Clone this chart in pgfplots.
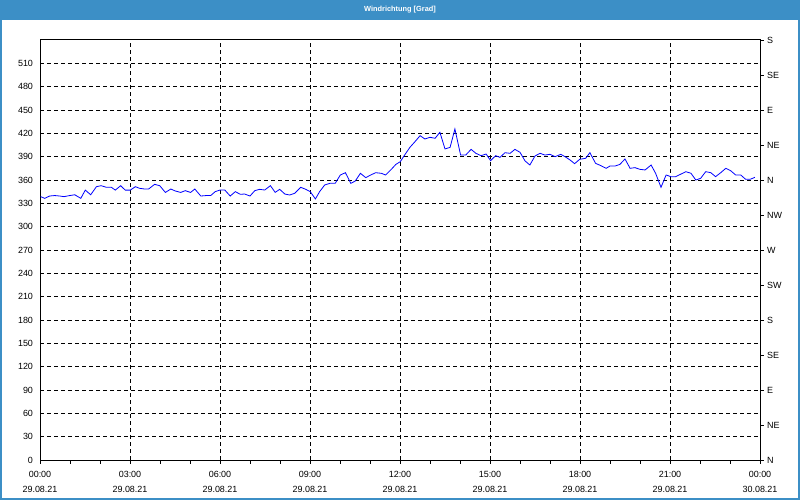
\documentclass[border=0pt]{standalone}
\usepackage{pgfplots}
\pgfplotsset{compat=1.18}
\usepackage{fontspec}
\setmainfont{Liberation Sans}
\definecolor{titlebar}{RGB}{60,143,198}
\begin{document}
\begin{tikzpicture}
\fill[titlebar] (0,0) rectangle (800bp,500bp);
\fill[white] (2bp,2bp) rectangle (798bp,480bp);
\node[text=white, font=\fontsize{7.4}{10}\selectfont] at (400bp,490bp) {\textbf{Windrichtung [Grad]}};
\begin{axis}[at={(40bp,40bp)}, anchor=south west, scale only axis,
  width=720bp, height=420bp,
  xmin=0, xmax=24, ymin=0, ymax=540,
  xtick={0,3,...,24}, minor xtick={0,1,...,24},
  xticklabels={{00:00\\29.08.21},{03:00\\29.08.21},{06:00\\29.08.21},{09:00\\29.08.21},{12:00\\29.08.21},{15:00\\29.08.21},{18:00\\29.08.21},{21:00\\29.08.21},{00:00\\30.08.21}},
  ytick={0,30,...,510},
  /pgf/number format/assume math mode=true,
  grid=major,
  major grid style={black, dash pattern=on 4bp off 3bp, line width=0.8bp},
  axis line style={black, line width=1bp},
  xtick pos=bottom, ytick pos=left,
  tick align=outside,
  major tick length=3.5bp, minor tick length=3.5bp,
  tick style={black, line width=0.8bp},
  ytick style={draw=none},
  xticklabel style={align=center, font=\fontsize{9}{15}\selectfont, text=black, yshift=-4.5bp},
  yticklabel style={font=\fontsize{9}{11}\selectfont, text=black},
  clip=true,
]
\addplot[blue, line width=0.8bp] coordinates {
(0.02,338.6)(0.16,336.4)(0.32,339.4)(0.49,340)(0.66,339.4)(0.80,338.6)(0.99,340)(1.16,341)(1.36,336.4)(1.51,347)(1.69,341)(1.88,351.4)(2.04,352.7)(2.21,350.6)(2.38,350.6)(2.51,347)(2.69,352.7)(2.84,347)(3.01,347)(3.18,351.4)(3.32,349.3)(3.49,348.4)(3.62,348.4)(3.82,354.4)(3.99,352.7)(4.18,344)(4.36,348.4)(4.51,345.9)(4.69,344)(4.84,346.3)(5.02,344)(5.16,348.4)(5.36,339.4)(5.54,340)(5.69,340)(5.84,345)(5.99,347)
(6.16,347.1)(6.34,339.4)(6.51,345)(6.68,341.6)(6.82,342)(7.00,339.4)(7.16,346.3)(7.32,348)(7.49,347.1)(7.68,352.7)(7.84,344.1)(7.99,348)(8.16,342)(8.32,340.7)(8.49,342.9)(8.69,350.6)(8.86,348)(9.01,345)(9.18,335.6)(9.32,345)(9.49,353.6)(9.66,355.7)(9.84,355.7)(10.01,366.4)(10.18,369.4)(10.36,355.7)(10.51,358.7)(10.68,368.6)(10.86,363)(11.02,366.4)(11.19,369.4)(11.38,368.6)(11.52,366.4)(11.71,373.7)(11.86,380)
(12.01,383.6)(12.14,391.3)(12.33,402)(12.50,409.3)(12.67,417)(12.83,412.7)(13.00,414.9)(13.17,413.6)(13.33,421.3)(13.50,399.9)(13.67,402)(13.83,425.6)(14.02,392.1)(14.19,392.1)(14.37,399.4)(14.53,394.3)(14.70,391.3)(14.87,393.4)(15.02,384.9)(15.19,391.3)(15.33,389.1)(15.50,395.1)(15.67,394.3)(15.83,399.4)(16.00,395.6)(16.17,384.4)(16.33,379.3)(16.50,390.9)(16.67,394.3)(16.83,392.1)(17.00,393)(17.17,390)(17.36,393)(17.50,390)(17.67,385.7)(17.82,381)
(17.99,386.6)(18.19,387.9)(18.33,395.1)(18.52,381.4)(18.70,378.4)(18.87,375)(19.00,378)(19.17,378)(19.33,380.1)(19.50,387)(19.67,375)(19.83,375.9)(20.00,373.7)(20.17,372.9)(20.37,379.3)(20.52,368.6)(20.70,350.6)(20.87,366.4)(21.03,364.3)(21.19,364.3)(21.37,367.7)(21.53,370.7)(21.70,368.6)(21.86,360)(22.02,362.1)(22.19,370.7)(22.36,369.4)(22.52,364.3)(22.69,369.4)(22.86,375)(23.02,372)(23.19,366.4)(23.36,366.4)(23.52,360.9)(23.67,360.9)(23.83,363.4)
};
\node[anchor=east, inner sep=0pt, xshift=-3.5bp, yshift=-5bp, font=\fontsize{9}{11}\selectfont] at (rel axis cs:0,1) {Grad};
\end{axis}
\begin{axis}[at={(40bp,40bp)}, anchor=south west, scale only axis,
  width=720bp, height=420bp,
  xmin=0, xmax=24, ymin=0, ymax=540,
  axis x line=none, axis y line*=right,
  axis line style={black, line width=1bp, -},
  ytick={0,45,...,540},
  yticklabels={N,NE,E,SE,S,SW,W,NW,N,NE,E,SE,S},
  tick align=outside, major tick length=3.5bp,
  tick style={black, line width=0.8bp},
  yticklabel style={font=\fontsize{9}{11}\selectfont, text=black, anchor=west},
]
\end{axis}
\end{tikzpicture}
\end{document}
